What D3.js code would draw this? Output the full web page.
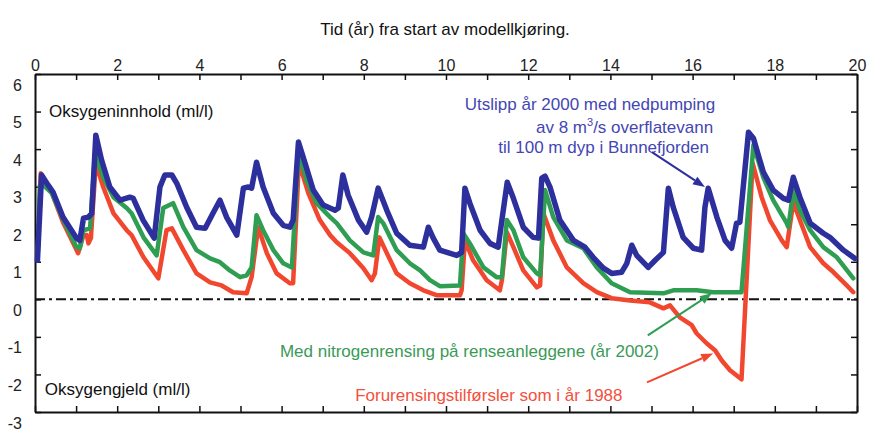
<!DOCTYPE html>
<html><head><meta charset="utf-8">
<script src="https://cdn.jsdelivr.net/npm/d3@7"></script>
<style>
body{margin:0;background:#fff;}
svg{display:block;font-family:"Liberation Sans",Arial,sans-serif;}
</style></head>
<body><svg id="c" width="876" height="430"></svg>
<script>
// ---- data (time in years, oxygen in ml/l) ----
const blueT=[0.06,0.16,0.32,0.44,0.68,1.01,1.09,1.18,1.30,1.38,1.48,1.62,1.82,2.07,2.31,2.39,2.63,2.90,3.04,3.16,3.33,3.45,3.69,3.93,4.14,4.33,4.50,4.66,4.91,5.07,5.19,5.27,5.39,5.55,5.80,6.04,6.20,6.28,6.41,6.57,6.77,7.01,7.30,7.38,7.49,7.62,7.87,8.07,8.19,8.35,8.56,8.80,9.12,9.45,9.57,9.69,9.85,10.26,10.38,10.46,10.58,10.83,11.07,11.27,11.36,11.49,11.64,11.88,12.12,12.25,12.33,12.41,12.53,12.77,13.10,13.38,13.58,13.83,14.03,14.27,14.40,14.52,14.64,14.92,15.09,15.29,15.41,15.53,15.77,16.02,16.22,16.30,16.38,16.59,16.79,16.95,17.07,17.15,17.36,17.48,17.72,17.96,18.21,18.33,18.45,18.61,18.86,19.18,19.34,19.67,19.95];
const blueV=[1.04,3.31,3.04,2.85,2.19,1.63,1.57,2.16,2.19,2.29,4.37,3.71,2.99,2.64,2.72,2.69,2.11,1.63,2.99,3.31,3.31,3.09,2.45,1.92,1.89,2.29,2.64,2.19,1.71,2.96,2.99,2.96,3.65,2.99,2.29,1.97,1.92,2.11,4.19,3.63,2.91,2.51,2.37,2.43,3.31,2.77,2.11,1.79,2.19,2.96,2.37,1.76,1.44,1.39,1.92,1.63,1.31,1.17,1.25,2.96,2.56,1.84,1.49,1.39,2.11,3.12,2.69,1.92,1.65,1.63,3.23,3.28,2.99,2.11,1.57,1.39,1.12,0.83,0.69,0.72,0.96,1.44,1.17,0.85,1.04,1.25,2.96,2.45,1.65,1.36,1.31,2.45,2.96,2.19,1.57,1.36,2.03,2.05,4.45,4.29,3.39,2.91,2.69,2.64,3.25,2.72,2.03,1.76,1.65,1.31,1.09];

const greenT=[0.06,0.12,0.20,0.41,0.69,1.01,1.09,1.18,1.34,1.46,1.66,1.91,2.23,2.35,2.64,2.96,3.12,3.36,3.61,3.93,4.26,4.50,4.74,4.99,5.15,5.27,5.39,5.55,5.80,6.04,6.25,6.41,6.61,6.85,7.18,7.34,7.66,7.99,8.23,8.35,8.47,8.80,9.12,9.37,9.61,9.85,10.34,10.42,10.58,10.91,11.23,11.36,11.48,11.64,11.88,12.21,12.29,12.41,12.61,12.94,13.34,13.67,14.03,14.48,15.29,15.53,16.10,16.50,17.19,17.48,17.72,17.96,18.29,18.33,18.45,18.61,18.86,19.18,19.51,19.91];
const greenV=[1.04,3.04,3.04,2.83,2.11,1.39,1.36,1.84,1.89,3.89,3.25,2.72,2.43,2.29,1.65,1.17,2.43,2.56,1.92,1.31,1.09,0.99,0.77,0.59,0.64,0.85,2.24,1.84,1.31,0.96,0.85,3.89,3.17,2.56,2.19,2.03,1.57,1.25,1.17,2.19,2.03,1.31,0.96,0.77,0.51,0.35,0.37,1.76,1.49,0.85,0.59,0.59,2.11,1.84,1.12,0.69,0.64,2.91,2.19,1.57,1.36,0.85,0.43,0.19,0.16,0.24,0.24,0.19,0.19,4.11,3.25,2.64,2.03,1.92,2.91,2.37,1.84,1.39,1.12,0.56];

const redT=[0.06,0.14,0.24,0.41,0.69,1.05,1.18,1.26,1.30,1.36,1.48,1.66,1.91,2.23,2.35,2.64,3.00,3.20,3.33,3.61,3.93,4.26,4.54,4.82,5.15,5.27,5.43,5.64,5.88,6.20,6.28,6.42,6.65,6.93,7.18,7.34,7.66,7.99,8.19,8.27,8.38,8.56,8.80,9.12,9.45,9.77,10.34,10.38,10.46,10.66,10.99,11.31,11.36,11.48,11.64,11.88,12.21,12.29,12.37,12.61,12.94,13.34,13.67,14.03,14.48,14.96,15.29,15.45,15.69,15.98,16.10,16.34,16.55,16.71,16.91,17.19,17.46,17.68,17.88,18.17,18.29,18.45,18.61,18.86,19.18,19.43,19.75,19.91];
const redV=[1.04,3.36,3.09,2.83,2.03,1.23,1.71,1.71,1.49,1.63,3.63,2.99,2.29,1.84,1.71,1.12,0.56,1.84,1.89,1.31,0.69,0.45,0.37,0.19,0.16,0.59,1.92,1.23,0.69,0.43,0.43,3.65,2.83,2.11,1.71,1.52,1.23,0.83,0.51,0.69,1.65,1.23,0.69,0.43,0.24,0.11,0.11,0.24,1.57,1.04,0.51,0.24,0.51,1.79,1.39,0.77,0.32,0.37,2.29,1.57,0.85,0.43,0.19,0.03,-0.03,-0.08,-0.24,-0.16,-0.48,-0.69,-0.91,-1.17,-1.36,-1.63,-1.89,-2.13,3.63,2.72,2.11,1.57,1.39,2.59,2.11,1.39,0.96,0.72,0.37,0.19];

const xTicks=[0,1,2,3,4,5,6,7,8,9,10,11,12,13,14,15,16,17,18,19,20];
const xLabels=["0","2","4","6","8","10","12","14","16","18","20"];
const yTicks=[-3,-2,-1,0,1,2,3,4,5,6];
const yLabels=["-3","-2","-1","0","1","2","3","4","5","6"];

const title="Tid (år) fra start av modellkjøring.";
const labelTop="Oksygeninnhold (ml/l)";
const labelBottom="Oksygengjeld (ml/l)";
const blueText=["Utslipp år 2000 med nedpumping","av 8 m","3","/s overflatevann","til 100 m dyp i Bunnefjorden"];
const greenText="Med nitrogenrensing på renseanleggene (år 2002)";
const redText="Forurensingstilførsler som i år 1988";

// ---- layout ----
const W=876,H=430;
const m={l:35,r:19,t:74,b:18};
const x=d3.scaleLinear().domain([0,20]).range([m.l,W-m.r]);
const y=d3.scaleLinear().domain([-3,6]).range([H-m.b,m.t]);
const svg=d3.select("#c");

const BLUE="#2c2f9c",GREEN="#2f9e52",RED="#f2472f";
const BLUE_T="#4446b4",GREEN_T="#3a9a58",RED_T="#f4503c";
const FS=17;

// title
svg.append("text").attr("x",445).attr("y",35).attr("text-anchor","middle")
  .attr("font-size",FS).attr("fill","#111").text(title);

// axes
const gTop=svg.append("g").attr("transform",`translate(0,${m.t})`)
  .call(d3.axisTop(x).tickValues(xTicks).tickSizeInner(-6).tickSizeOuter(0).tickPadding(3)
    .tickFormat(d=>d%2===0?xLabels[d/2]:""));
const gBot=svg.append("g").attr("transform",`translate(0,${H-m.b})`)
  .call(d3.axisBottom(x).tickValues(xTicks).tickSizeInner(-6).tickSizeOuter(0).tickFormat(""));
const gLeft=svg.append("g").attr("transform",`translate(${m.l},0)`)
  .call(d3.axisLeft(y).tickValues(yTicks).tickSizeInner(-6).tickSizeOuter(0).tickPadding(13)
    .tickFormat((d,i)=>yLabels[i]));
const gRight=svg.append("g").attr("transform",`translate(${W-m.r},0)`)
  .call(d3.axisRight(y).tickValues(yTicks).tickSizeInner(-6).tickSizeOuter(0).tickFormat(""));
[gTop,gBot,gLeft,gRight].forEach(g=>{
  g.select(".domain").attr("stroke","#111").attr("stroke-width",2);
  g.selectAll(".tick line").attr("stroke","#111").attr("stroke-width",1.5);
  g.selectAll("text").attr("font-size",16).attr("fill","#222").attr("font-family","Liberation Sans, Arial, sans-serif");
});
gLeft.selectAll("text").attr("dy","1.0em");

// zero line (dash-dot)
svg.append("line").attr("x1",x(0)).attr("x2",x(20)).attr("y1",y(0)).attr("y2",y(0))
  .attr("stroke","#111").attr("stroke-width",2).attr("stroke-dasharray","10,4,3,4");

// series
const line=d3.line().x(d=>x(d[0])).y(d=>y(d[1]));
const series=[
  {t:redT,v:redV,c:RED,w:4.5},
  {t:greenT,v:greenV,c:GREEN,w:4.5},
  {t:blueT,v:blueV,c:BLUE,w:5.5}
];
series.forEach(s=>{
  svg.append("path").datum(s.t.map((t,i)=>[t,s.v[i]])).attr("d",line)
    .attr("fill","none").attr("stroke",s.c).attr("stroke-width",s.w)
    .attr("stroke-linejoin","round").attr("stroke-linecap","round");
});

// annotations text
svg.append("text").attr("x",x(0.34)).attr("y",y(4.85)).attr("font-size",FS).attr("fill","#111").text(labelTop);
svg.append("text").attr("x",x(0.24)).attr("y",y(-2.54)).attr("font-size",FS).attr("fill","#111").text(labelBottom);

const bt=svg.append("g").attr("fill",BLUE_T).attr("font-size",FS).attr("text-anchor","end");
bt.append("text").attr("x",x(16.55)).attr("y",y(5.04)).text(blueText[0]);
const l2=bt.append("text").attr("x",x(16.50)).attr("y",y(4.43));
l2.append("tspan").text(blueText[1]);
l2.append("tspan").attr("font-size",11).attr("dy",-7).text(blueText[2]);
l2.append("tspan").attr("dy",7).text(blueText[3]);
bt.append("text").attr("x",x(16.40)).attr("y",y(3.90)).text(blueText[4]);

svg.append("text").attr("x",x(5.96)).attr("y",y(-1.53)).attr("font-size",FS).attr("fill",GREEN_T).text(greenText);
svg.append("text").attr("x",x(7.79)).attr("y",y(-2.71)).attr("font-size",FS).attr("fill",RED_T).text(redText);

// arrows
function arrow(x1,y1,x2,y2,c){
  const px1=x(x1),py1=y(y1),px2=x(x2),py2=y(y2);
  const a=Math.atan2(py2-py1,px2-px1),L=12,Wd=4.5;
  const bx=px2-L*Math.cos(a),by=py2-L*Math.sin(a);
  svg.append("line").attr("x1",px1).attr("y1",py1).attr("x2",bx).attr("y2",by)
    .attr("stroke",c).attr("stroke-width",2);
  svg.append("path").attr("d",`M${px2},${py2}L${bx-Wd*Math.sin(a)},${by+Wd*Math.cos(a)}L${bx+Wd*Math.sin(a)},${by-Wd*Math.cos(a)}Z`)
    .attr("fill",c);
}
arrow(15.01,3.92,16.30,2.99,BLUE);
arrow(14.91,-0.96,16.47,0.16,GREEN);
arrow(14.89,-2.21,16.50,-1.44,RED);
</script></body></html>
